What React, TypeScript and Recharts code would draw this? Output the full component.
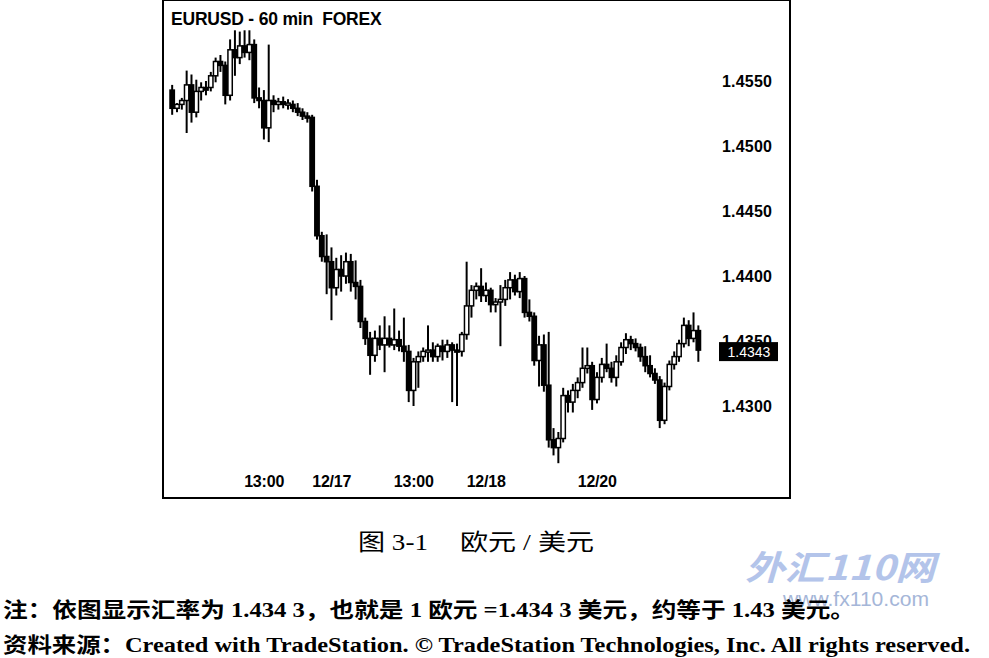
import { ComposedChart, Bar, XAxis, YAxis, ReferenceLine } from 'recharts'

// EURUSD 60 min bars
const openPx = [
    1.4543, 1.4529, 1.4532, 1.4535, 1.4547, 1.4526, 1.4542, 1.4545, 1.4545, 1.4554,
    1.4565, 1.4562, 1.4539, 1.4574, 1.4568, 1.4577, 1.4572, 1.4578, 1.4537, 1.4535,
    1.4514, 1.4535, 1.4532, 1.4534, 1.4532, 1.4532, 1.4529, 1.4526, 1.4523, 1.4522,
    1.4469, 1.4431, 1.4415, 1.4411, 1.4391, 1.4405, 1.44, 1.4411, 1.4395, 1.4392,
    1.4365, 1.4352, 1.4339, 1.4352, 1.4347, 1.4352, 1.4347, 1.4351, 1.4346, 1.4342,
    1.4312, 1.4334, 1.4338, 1.4342, 1.4343, 1.4338, 1.4346, 1.4342, 1.4347, 1.4343,
    1.4342, 1.4355, 1.4377, 1.4389, 1.4392, 1.4385, 1.4389, 1.4378, 1.438, 1.4382,
    1.4391, 1.4397, 1.4388, 1.4398, 1.4372, 1.4369, 1.4335, 1.4347, 1.4316, 1.4274,
    1.4268, 1.4275, 1.4308, 1.4303, 1.4312, 1.4318, 1.4329, 1.4331, 1.4305, 1.4322,
    1.4332, 1.4329, 1.4322, 1.4334, 1.4345, 1.4351, 1.4348, 1.4345, 1.4338, 1.4331,
    1.4325, 1.432, 1.4289, 1.4315, 1.4332, 1.4338, 1.4348, 1.4362, 1.4352, 1.4358,
]
const highPx = [
    1.4547, 1.4533, 1.4537, 1.4558, 1.4555, 1.4551, 1.4549, 1.455, 1.4557, 1.4568,
    1.457, 1.4565, 1.4582, 1.4589, 1.4588, 1.4589, 1.4589, 1.4582, 1.4545, 1.4543,
    1.4578, 1.4539, 1.4537, 1.4538, 1.4536, 1.4535, 1.4533, 1.4529, 1.4526, 1.4524,
    1.4474, 1.4434, 1.4432, 1.4422, 1.4414, 1.4416, 1.4418, 1.4417, 1.4412, 1.4397,
    1.4368, 1.4357, 1.4358, 1.4362, 1.4369, 1.4362, 1.4375, 1.4358, 1.4368, 1.4347,
    1.4337, 1.4342, 1.4345, 1.4362, 1.4349, 1.4348, 1.4351, 1.4351, 1.4349, 1.4348,
    1.4357, 1.4411, 1.4393, 1.4395, 1.4406, 1.4395, 1.4391, 1.4383, 1.4393, 1.4397,
    1.4403, 1.4401, 1.4403, 1.44, 1.4382, 1.4372, 1.4354, 1.4355, 1.4357, 1.4283,
    1.428, 1.4314, 1.4312, 1.4317, 1.4322, 1.4345, 1.4345, 1.4334, 1.4326, 1.4337,
    1.4348, 1.4334, 1.4339, 1.4349, 1.4356, 1.4354, 1.4352, 1.4348, 1.4346, 1.4339,
    1.4329, 1.4323, 1.4318, 1.4335, 1.4342, 1.4351, 1.4368, 1.4366, 1.4372, 1.4362,
]
const lowPx = [
    1.4524, 1.4526, 1.4528, 1.451, 1.4518, 1.4522, 1.4535, 1.4539, 1.4542, 1.4549,
    1.4557, 1.4532, 1.4535, 1.4554, 1.4563, 1.4568, 1.4566, 1.4533, 1.4529, 1.4505,
    1.4503, 1.4526, 1.4528, 1.4529, 1.4528, 1.4526, 1.4523, 1.452, 1.4518, 1.4465,
    1.4428, 1.4411, 1.4386, 1.4366, 1.4385, 1.4388, 1.4394, 1.4388, 1.4382, 1.436,
    1.4347, 1.4324, 1.4334, 1.4343, 1.4326, 1.4345, 1.4343, 1.4342, 1.4334, 1.4303,
    1.43, 1.4314, 1.4334, 1.4334, 1.4334, 1.4334, 1.4335, 1.4337, 1.4303, 1.43,
    1.4338, 1.4351, 1.4368, 1.4382, 1.438, 1.438, 1.4372, 1.4372, 1.4346, 1.4377,
    1.4382, 1.4385, 1.4383, 1.4368, 1.4365, 1.4331, 1.4315, 1.4311, 1.4268, 1.4262,
    1.4256, 1.4272, 1.4295, 1.4295, 1.4306, 1.4314, 1.4325, 1.4297, 1.4302, 1.4318,
    1.4326, 1.4318, 1.4315, 1.4331, 1.434, 1.4343, 1.4342, 1.4334, 1.4326, 1.4322,
    1.4317, 1.4283, 1.4286, 1.4312, 1.4328, 1.4334, 1.4345, 1.4346, 1.4349, 1.4334,
]
const closePx = [
    1.4529, 1.4532, 1.4535, 1.4547, 1.4526, 1.4542, 1.4545, 1.4543, 1.4554, 1.4565,
    1.4562, 1.4539, 1.4574, 1.4568, 1.4577, 1.4572, 1.4578, 1.4537, 1.4535, 1.4514,
    1.4535, 1.4532, 1.4534, 1.4532, 1.4533, 1.4529, 1.4526, 1.4523, 1.4522, 1.4469,
    1.4431, 1.4415, 1.4411, 1.4391, 1.4405, 1.44, 1.4411, 1.4395, 1.4392, 1.4365,
    1.4352, 1.4339, 1.4352, 1.4347, 1.4352, 1.4347, 1.4351, 1.4346, 1.4342, 1.4312,
    1.4334, 1.4338, 1.4342, 1.4343, 1.4338, 1.4346, 1.4342, 1.4347, 1.4343, 1.4342,
    1.4355, 1.4377, 1.4389, 1.4392, 1.4385, 1.4389, 1.4378, 1.438, 1.4382, 1.4391,
    1.4397, 1.4388, 1.4398, 1.4372, 1.4369, 1.4335, 1.4347, 1.4316, 1.4274, 1.4268,
    1.4275, 1.4308, 1.4303, 1.4312, 1.4318, 1.4329, 1.4331, 1.4305, 1.4322, 1.4332,
    1.4329, 1.4322, 1.4334, 1.4345, 1.4351, 1.4348, 1.4345, 1.4338, 1.4331, 1.4325,
    1.432, 1.4289, 1.4315, 1.4332, 1.4338, 1.4348, 1.4362, 1.4352, 1.4358, 1.4343,
]

const tickIdx = [19, 33, 50, 65, 88]
const tickLabels = ['13:00', '12/17', '13:00', '12/18', '12/20']
const priceTicks = [1.43, 1.435, 1.44, 1.445, 1.45, 1.455]
const lastPrice = 1.4343

const data = openPx.map((o, i) => ({
    idx: i,
    open: o,
    high: highPx[i],
    low: lowPx[i],
    close: closePx[i],
    range: [lowPx[i], highPx[i]],
}))

const SANS = "'Liberation Sans', Arial, sans-serif"
const SERIF = "'Liberation Serif', 'Noto Sans CJK SC', serif"

const Candle = (props: any) => {
    const { x, y, width, height, payload } = props
    const top = Math.min(y, y + height)
    const h = Math.abs(height)
    const ratio = h / (payload.high - payload.low || 1)
    const up = payload.close >= payload.open
    const bTop = top + (payload.high - Math.max(payload.open, payload.close)) * ratio
    const bH = Math.max(2, Math.abs(payload.close - payload.open) * ratio)
    const cx = x + width / 2
    return (
        <g>
            <line x1={cx} x2={cx} y1={top} y2={top + h} stroke="#000" strokeWidth={2} />
            <rect
                x={x}
                y={bTop}
                width={width}
                height={bH}
                fill={up ? '#fff' : '#000'}
                stroke="#000"
                strokeWidth={1.5}
            />
        </g>
    )
}

const XTick = ({ x, y, payload }: any) => {
    const k = tickIdx.indexOf(payload.value)
    return (
        <text
            x={x}
            y={y + 10}
            textAnchor="middle"
            dominantBaseline="central"
            fontFamily={SANS}
            fontWeight="bold"
            fontSize={16}
            letterSpacing={-0.2}
            fill="#000"
        >
            {k >= 0 ? tickLabels[k] : ''}
        </text>
    )
}

const YTick = ({ x, y, payload }: any) => (
    <text
        x={x + 21}
        y={y}
        dominantBaseline="central"
        fontFamily={SANS}
        fontWeight="bold"
        fontSize={16}
        letterSpacing={0.2}
        fill="#000"
    >
        {payload.value.toFixed(4)}
    </text>
)

const PriceTag = ({ viewBox }: any) => {
    const right = viewBox.x + viewBox.width
    return (
        <g>
            <rect x={right + 18} y={viewBox.y - 8} width={59} height={19} fill="#000" />
            <text
                x={right + 48}
                y={viewBox.y + 2}
                textAnchor="middle"
                dominantBaseline="central"
                fontFamily={SANS}
                fontSize={14}
                fill="#fff"
            >
                {lastPrice.toFixed(4)}
            </text>
        </g>
    )
}

const App = () => {
    return (
        <div
            style={{
                position: 'absolute',
                left: 0,
                top: 0,
                width: 989,
                height: 658,
                background: '#fff',
                overflow: 'hidden',
            }}
        >
            <div style={{ position: 'absolute', left: 163, top: 0 }}>
                <ComposedChart
                    width={627}
                    height={498}
                    data={data}
                    margin={{ top: 16, right: 0, bottom: 0, left: 7 }}
                >
                    <XAxis
                        dataKey="idx"
                        ticks={tickIdx}
                        interval={0}
                        axisLine={false}
                        tickLine={false}
                        tickSize={0}
                        tickMargin={0}
                        height={27}
                        tick={XTick}
                    />
                    <YAxis
                        orientation="right"
                        domain={[1.425, 1.46]}
                        ticks={priceTicks}
                        allowDataOverflow
                        axisLine={false}
                        tickLine={false}
                        tickSize={0}
                        tickMargin={0}
                        width={89}
                        tick={YTick}
                    />
                    <Bar
                        dataKey="range"
                        barSize={5}
                        shape={Candle}
                        isAnimationActive={false}
                    />
                    <ReferenceLine
                        y={lastPrice}
                        stroke="#000"
                        strokeOpacity={0}
                        label={(p: any) => <PriceTag {...p} />}
                    />
                </ComposedChart>
            </div>
            <div
                style={{
                    position: 'absolute',
                    left: 162,
                    top: -1,
                    width: 629,
                    height: 500,
                    border: '2px solid #000',
                    boxSizing: 'border-box',
                    pointerEvents: 'none',
                }}
            />
            <div
                style={{
                    position: 'absolute',
                    left: 171,
                    top: 9,
                    fontFamily: SANS,
                    fontWeight: 'bold',
                    fontSize: 17.5,
                    letterSpacing: -0.2,
                    whiteSpace: 'pre',
                    color: '#000',
                }}
            >
                {'EURUSD - 60 min  FOREX'}
            </div>
            <svg
                width={989}
                height={658}
                style={{ position: 'absolute', left: 0, top: 0, pointerEvents: 'none' }}
            >
                <text x={745} y={580} fontFamily="'Noto Sans CJK SC', sans-serif" fontWeight="bold" fontStyle="italic" fontSize={34} fill="#b3c4ea" textLength={190} lengthAdjust="spacingAndGlyphs">
                    外汇110网
                </text>
                <text x={783} y={606} fontFamily={SANS} fontSize={20} fill="#a5b6d8" textLength={146} lengthAdjust="spacingAndGlyphs">
                    www.fx110.com
                </text>
                <text x={358} y={550} fontFamily={SERIF} fontSize={23} fill="#000" textLength={70} lengthAdjust="spacingAndGlyphs">
                    图 3-1
                </text>
                <text x={460} y={550} fontFamily={SERIF} fontSize={23} fill="#000" textLength={134} lengthAdjust="spacingAndGlyphs">
                    欧元 / 美元
                </text>
                <text x={3} y={617} fontFamily={SERIF} fontWeight="bold" fontSize={21} fill="#000" textLength={852} lengthAdjust="spacingAndGlyphs">
                    注：依图显示汇率为 1.434 3，也就是 1 欧元 =1.434 3 美元，约等于 1.43 美元。
                </text>
                <text x={3} y={652} fontFamily={SERIF} fontWeight="bold" fontSize={21} fill="#000" textLength={967} lengthAdjust="spacingAndGlyphs">
                    资料来源：Created with TradeStation. © TradeStation Technologies, Inc. All rights reserved.
                </text>
            </svg>
        </div>
    )
}

export default App
